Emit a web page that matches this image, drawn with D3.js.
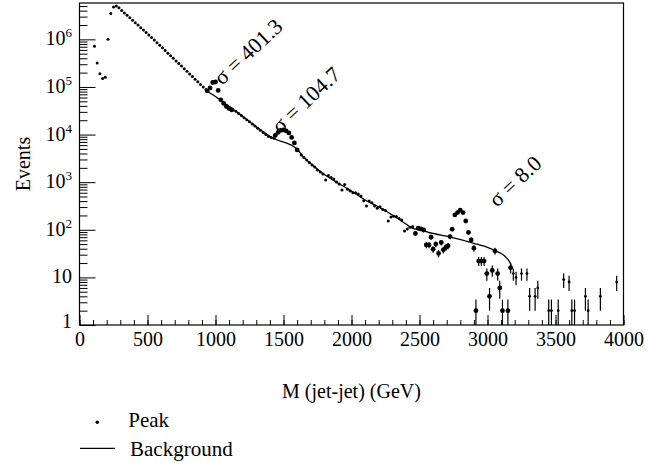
<!DOCTYPE html>
<html>
<head>
<meta charset="utf-8">
<script src="https://cdn.jsdelivr.net/npm/d3@7"></script>
<style>
  body { margin: 0; background: #fff; }
  svg { display: block; font-family: "Liberation Serif", "Times New Roman", serif; }
</style>
</head>
<body>
<div id="chart"></div>
<script>
// bulk of the spectrum, small markers (GeV, events)
var bulkMass = [110, 130, 150, 170, 190, 210, 230, 250, 270, 290,
    310, 330, 350, 370, 390, 410, 430, 450, 470, 490,
    510, 530, 550, 570, 590, 610, 630, 650, 670, 690,
    710, 730, 750, 770, 790, 810, 830, 850, 870, 890, 910, 930,
    1150, 1170, 1190, 1210, 1230, 1250, 1270, 1290, 1310, 1330, 1350, 1370, 1390, 1410, 1430,
    1630, 1650, 1670, 1690, 1710, 1730, 1750, 1770, 1790, 1810, 1830, 1850, 1870, 1890,
    1910, 1930, 1950, 1970, 1990, 2010, 2030, 2050, 2070, 2090, 2110, 2130, 2150, 2170,
    2190, 2210, 2230, 2250, 2270, 2290, 2310, 2330, 2350, 2370, 2390, 2410, 2430, 2450];
var bulkEvents = [7.2e5, 3.2e5, 1.9e5, 1.5e5, 1.6e5, 1.0e6, 3.5e6, 4.8e6, 5.0e6, 4.6e6,
    4.05e6, 3.59e6, 3.19e6, 2.83e6, 2.52e6, 2.23e6, 1.99e6, 1.76e6, 1.57e6, 1.39e6,
    1.24e6, 1.10e6, 9.67e5, 8.53e5, 7.52e5, 6.63e5, 5.84e5, 5.13e5, 4.52e5, 3.99e5,
    3.52e5, 3.10e5, 2.74e5, 2.41e5, 2.13e5, 1.88e5, 1.65e5, 1.46e5, 1.29e5, 1.13e5, 1.00e5, 8.82e4,
    3.07e4, 2.77e4, 2.51e4, 2.26e4, 2.05e4, 1.85e4, 1.67e4, 1.51e4, 1.36e4, 1.23e4, 1.11e4, 1.00e4, 9.12e3, 8.69e3, 8.36e3,
    3.72e3, 3.30e3, 2.93e3, 2.59e3, 2.30e3, 2.08e3, 1.80e3, 1.64e3, 1.49e3, 1.11e3, 1.38e3, 1.26e3, 1.17e3, 1.01e3,
    917, 686, 895, 709, 653, 602, 600, 565, 513, 408, 316, 403, 371, 316,
    283, 306, 267, 254, 153, 186, 192, 190, 173, 161, 94, 104, 113, 117];

// peak regions, large markers
var peakMass = [940, 960, 980, 1000, 1020, 1040, 1060, 1080, 1100, 1120,
    1440, 1460, 1480, 1500, 1520, 1540, 1560, 1580, 1600,
    2470, 2490, 2510, 2530, 2550, 2570, 2585, 2600, 2620, 2640, 2660, 2675, 2695, 2710, 2725, 2740,
    2760, 2780, 2800, 2820, 2840, 2860, 2880, 2900, 2915, 2935, 2955, 2975, 2995, 3015, 3035, 3055,
    3075, 3090, 3110, 3150, 3170];
var peakEvents = [8.24e4, 9.53e4, 1.24e5, 1.27e5, 8.44e4, 5.34e4, 4.50e4, 3.89e4, 3.53e4, 3.29e4,
    9.57e3, 1.11e4, 1.22e4, 1.25e4, 1.19e4, 1.08e4, 8.69e3, 6.66e3, 4.75e3,
    84, 108, 104, 99, 48, 48, 70, 39, 50, 32, 54, 38, 43, 46, 72, 103,
    205, 230, 258, 230, 153, 88, 61, 41, 2, 22, 22, 22, 12, 4, 14, 36,
    12, 6, 2, 2, 16];

// high mass tail, small markers with errors
var tailMass = [3190, 3210, 3250, 3290, 3310, 3350, 3370, 3450, 3470, 3520, 3560, 3600, 3620, 3640, 3720, 3740, 3830, 3950];
var tailEvents = [12, 10, 12, 12, 4, 4, 6, 2, 2, 2, 9, 8, 2, 2, 4, 2, 4, 8];

// background fit
var bgMass = [940, 1000, 1060, 1120, 1200, 1300, 1410, 1600, 1640, 1700, 1800, 1900, 2000, 2100,
    2200, 2300, 2400, 2450, 2520, 2600, 2720, 2900, 3000, 3060, 3100, 3130, 3150, 3170, 3180];
var bgEvents = [8.05e4, 6.31e4, 4.72e4, 3.57e4, 2.40e4, 1.45e4, 8.77e3, 4.98e3, 3.55e3, 2.47e3, 1.45e3, 962, 653, 423,
    301, 205, 132, 107, 96.6, 83.6, 70.6, 52, 42.5, 35.9, 31.8, 27.5, 23.8, 19.1, 15];

var sigmaText = ["\u03c3 = 401.3", "\u03c3 = 104.7", "\u03c3 = 8.0"];
var sigmaMass = [1048, 1474, 3070];
var sigmaEvents = [1.05e5, 1.02e4, 287];

var xTickMajor = [0, 500, 1000, 1500, 2000, 2500, 3000, 3500, 4000];
var yTickMajor = [1, 10, 1e2, 1e3, 1e4, 1e5, 1e6];

var width = 671, height = 464;

var x = d3.scaleLinear().domain([0, 4000]).range([79.5, 623.5]);
var y = d3.scaleLog().domain([1, 5.8e6]).range([325, 3]);

var svg = d3.select("#chart").append("svg")
    .attr("width", width)
    .attr("height", height);

// minor ticks
var xMinor = [];
for (var v = 0; v <= 4000; v += 100) xMinor.push(v);
var yMinor = [];
yTickMajor.forEach(function (d) {
    for (var k = 2; k <= 9; k++) if (d * k <= 5.8e6) yMinor.push(d * k);
});

svg.append("g")
    .attr("transform", "translate(0,325)")
    .call(d3.axisBottom(x).tickValues(xMinor).tickSize(-5).tickFormat(""))
    .call(function (g) { g.select(".domain").remove(); });

var xAxis = svg.append("g")
    .attr("transform", "translate(0,325)")
    .call(d3.axisBottom(x).tickValues(xTickMajor).tickSize(-10).tickPadding(7).tickFormat(d3.format("d")));
xAxis.select(".domain").remove();
xAxis.selectAll("text")
    .attr("font-family", "Liberation Serif")
    .attr("font-size", 20)
    .attr("fill", "#000");

svg.append("g")
    .attr("transform", "translate(79.5,0)")
    .call(d3.axisLeft(y).tickValues(yMinor).tickSize(-8).tickFormat(""))
    .call(function (g) { g.select(".domain").remove(); });

var yAxis = svg.append("g")
    .attr("transform", "translate(79.5,0)")
    .call(d3.axisLeft(y).tickValues(yTickMajor).tickSize(-16).tickFormat(""));
yAxis.select(".domain").remove();

// y labels with superscripts
yTickMajor.forEach(function (d) {
    var p = Math.round(Math.log10(d));
    var t = svg.append("text")
        .attr("x", 72)
        .attr("y", y(d) + (p == 0 ? 3 : 6))
        .attr("text-anchor", "end")
        .attr("font-size", 20);
    if (p < 2) {
        t.text(d);
    } else {
        t.append("tspan").text("10");
        t.append("tspan").attr("dy", -8).attr("font-size", 13).text(p);
    }
});

svg.selectAll(".tick line").attr("stroke", "#000").attr("stroke-width", 1);

// frame
svg.append("rect")
    .attr("x", x(0))
    .attr("y", y(5.8e6))
    .attr("width", x(4000) - x(0))
    .attr("height", y(1) - y(5.8e6))
    .attr("fill", "none")
    .attr("stroke", "#000")
    .attr("stroke-width", 1.2);

// background line
var line = d3.line()
    .x(function (d, i) { return x(bgMass[i]); })
    .y(function (d) { return y(d); })
    .curve(d3.curveMonotoneX);

svg.append("path")
    .datum(bgEvents)
    .attr("d", line)
    .attr("fill", "none")
    .attr("stroke", "#000")
    .attr("stroke-width", 1.3);

function errBars(mass, events) {
    svg.append("g")
        .selectAll("line")
        .data(events)
        .enter().append("line")
        .attr("x1", function (d, i) { return x(mass[i]); })
        .attr("x2", function (d, i) { return x(mass[i]); })
        .attr("y1", function (d) { return y(Math.max(d - Math.sqrt(d), 1)); })
        .attr("y2", function (d) { return y(d + Math.sqrt(d)); })
        .attr("stroke", "#000")
        .attr("stroke-width", 1.2);
}

function dots(mass, events, r) {
    svg.append("g")
        .selectAll("circle")
        .data(events)
        .enter().append("circle")
        .attr("cx", function (d, i) { return x(mass[i]); })
        .attr("cy", function (d) { return y(d); })
        .attr("r", r)
        .attr("fill", "#000");
}

dots(bulkMass, bulkEvents, 1.5);
errBars(peakMass, peakEvents);
dots(peakMass, peakEvents, 2.4);
errBars(tailMass, tailEvents);
dots(tailMass, tailEvents, 1.4);

// sigma annotations
sigmaText.forEach(function (s, i) {
    var px = x(sigmaMass[i]), py = y(sigmaEvents[i]);
    svg.append("text")
        .attr("transform", "translate(" + px + "," + py + ") rotate(-43)")
        .attr("font-size", 22)
        .text(s);
});

// axis titles
svg.append("text")
    .attr("x", 351.5)
    .attr("y", 398)
    .attr("text-anchor", "middle")
    .attr("font-size", 20)
    .text("M (jet-jet) (GeV)");

svg.append("text")
    .attr("transform", "translate(30,164) rotate(-90)")
    .attr("text-anchor", "middle")
    .attr("font-size", 20)
    .text("Events");

// legend
svg.append("circle").attr("cx", 97.3).attr("cy", 422.3).attr("r", 1.8).attr("fill", "#000");
svg.append("text").attr("x", 128.3).attr("y", 427.3).attr("font-size", 21).text("Peak");
svg.append("line").attr("x1", 80).attr("x2", 115).attr("y1", 448.3).attr("y2", 448.3)
    .attr("stroke", "#000").attr("stroke-width", 1.2);
svg.append("text").attr("x", 130).attr("y", 456).attr("font-size", 21).text("Background");
</script>
</body>
</html>
